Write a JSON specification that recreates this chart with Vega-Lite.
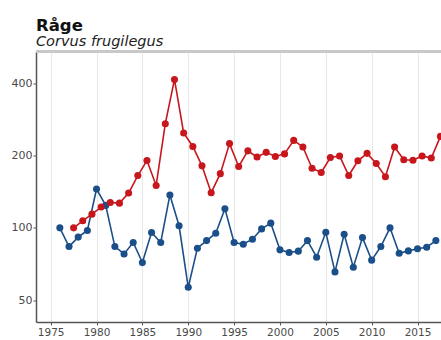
{
  "$schema": "https://vega.github.io/schema/vega-lite/v6.json",
  "width": 405,
  "height": 270.5,
  "autosize": {"type": "none"},
  "padding": {"left": 36, "top": 51.5, "right": 0, "bottom": 18},
  "background": "white",
  "config": {
    "font": "DejaVu Sans",
    "view": {"stroke": null},
    "axis": {
      "gridColor": "#e8e8e8",
      "gridWidth": 1,
      "domainColor": "#555555",
      "domainWidth": 1.5,
      "tickColor": "#555555",
      "tickSize": 3,
      "labelColor": "#4a4a4a",
      "labelFontSize": 10.5,
      "titleFontSize": 10
    }
  },
  "title": {
    "text": "Råge",
    "subtitle": "Corvus frugilegus",
    "anchor": "start",
    "frame": "group",
    "font": "DejaVu Sans",
    "fontSize": 16.5,
    "fontWeight": "bold",
    "color": "#111111",
    "subtitleFont": "DejaVu Sans",
    "subtitleFontStyle": "italic",
    "subtitleFontSize": 14.5,
    "subtitleColor": "#222222",
    "subtitlePadding": 1,
    "offset": 2
  },
  "data": {
    "values": [
      {"aar": 1976, "antal": 100, "serie": "A"},
      {"aar": 1977, "antal": 83.6, "serie": "A"},
      {"aar": 1978, "antal": 91.5, "serie": "A"},
      {"aar": 1979, "antal": 97.5, "serie": "A"},
      {"aar": 1980, "antal": 145, "serie": "A"},
      {"aar": 1981, "antal": 124, "serie": "A"},
      {"aar": 1982, "antal": 83.6, "serie": "A"},
      {"aar": 1983, "antal": 77.9, "serie": "A"},
      {"aar": 1984, "antal": 86.9, "serie": "A"},
      {"aar": 1985, "antal": 71.7, "serie": "A"},
      {"aar": 1986, "antal": 95.6, "serie": "A"},
      {"aar": 1987, "antal": 86.9, "serie": "A"},
      {"aar": 1988, "antal": 137, "serie": "A"},
      {"aar": 1989, "antal": 102, "serie": "A"},
      {"aar": 1990, "antal": 56.6, "serie": "A"},
      {"aar": 1991, "antal": 82.3, "serie": "A"},
      {"aar": 1992, "antal": 88.5, "serie": "A"},
      {"aar": 1993, "antal": 95, "serie": "A"},
      {"aar": 1994, "antal": 120, "serie": "A"},
      {"aar": 1995, "antal": 86.9, "serie": "A"},
      {"aar": 1996, "antal": 85.5, "serie": "A"},
      {"aar": 1997, "antal": 89.7, "serie": "A"},
      {"aar": 1998, "antal": 99, "serie": "A"},
      {"aar": 1999, "antal": 104.6, "serie": "A"},
      {"aar": 2000, "antal": 81, "serie": "A"},
      {"aar": 2001, "antal": 79, "serie": "A"},
      {"aar": 2002, "antal": 80, "serie": "A"},
      {"aar": 2003, "antal": 88.5, "serie": "A"},
      {"aar": 2004, "antal": 75.5, "serie": "A"},
      {"aar": 2005, "antal": 95.9, "serie": "A"},
      {"aar": 2006, "antal": 65.6, "serie": "A"},
      {"aar": 2007, "antal": 94.1, "serie": "A"},
      {"aar": 2008, "antal": 68.6, "serie": "A"},
      {"aar": 2009, "antal": 91.1, "serie": "A"},
      {"aar": 2010, "antal": 73.4, "serie": "A"},
      {"aar": 2011, "antal": 83.6, "serie": "A"},
      {"aar": 2012, "antal": 100, "serie": "A"},
      {"aar": 2013, "antal": 78.4, "serie": "A"},
      {"aar": 2014, "antal": 80.2, "serie": "A"},
      {"aar": 2015, "antal": 81.8, "serie": "A"},
      {"aar": 2016, "antal": 83.1, "serie": "A"},
      {"aar": 2017, "antal": 88.5, "serie": "A"},
      {"aar": 1977.5, "antal": 100, "serie": "B"},
      {"aar": 1978.5, "antal": 107, "serie": "B"},
      {"aar": 1979.5, "antal": 114, "serie": "B"},
      {"aar": 1980.5, "antal": 122, "serie": "B"},
      {"aar": 1981.5, "antal": 127.5, "serie": "B"},
      {"aar": 1982.5, "antal": 126.7, "serie": "B"},
      {"aar": 1983.5, "antal": 139.5, "serie": "B"},
      {"aar": 1984.5, "antal": 165, "serie": "B"},
      {"aar": 1985.5, "antal": 190.6, "serie": "B"},
      {"aar": 1986.5, "antal": 150, "serie": "B"},
      {"aar": 1987.5, "antal": 271, "serie": "B"},
      {"aar": 1988.5, "antal": 414, "serie": "B"},
      {"aar": 1989.5, "antal": 248, "serie": "B"},
      {"aar": 1990.5, "antal": 218, "serie": "B"},
      {"aar": 1991.5, "antal": 181, "serie": "B"},
      {"aar": 1992.5, "antal": 140, "serie": "B"},
      {"aar": 1993.5, "antal": 168, "serie": "B"},
      {"aar": 1994.5, "antal": 224, "serie": "B"},
      {"aar": 1995.5, "antal": 180, "serie": "B"},
      {"aar": 1996.5, "antal": 209, "serie": "B"},
      {"aar": 1997.5, "antal": 197, "serie": "B"},
      {"aar": 1998.5, "antal": 206, "serie": "B"},
      {"aar": 1999.5, "antal": 198, "serie": "B"},
      {"aar": 2000.5, "antal": 203, "serie": "B"},
      {"aar": 2001.5, "antal": 231, "serie": "B"},
      {"aar": 2002.5, "antal": 217, "serie": "B"},
      {"aar": 2003.5, "antal": 177, "serie": "B"},
      {"aar": 2004.5, "antal": 170, "serie": "B"},
      {"aar": 2005.5, "antal": 196, "serie": "B"},
      {"aar": 2006.5, "antal": 199, "serie": "B"},
      {"aar": 2007.5, "antal": 165, "serie": "B"},
      {"aar": 2008.5, "antal": 190, "serie": "B"},
      {"aar": 2009.5, "antal": 204, "serie": "B"},
      {"aar": 2010.5, "antal": 185, "serie": "B"},
      {"aar": 2011.5, "antal": 163, "serie": "B"},
      {"aar": 2012.5, "antal": 217, "serie": "B"},
      {"aar": 2013.5, "antal": 192, "serie": "B"},
      {"aar": 2014.5, "antal": 191, "serie": "B"},
      {"aar": 2015.5, "antal": 199, "serie": "B"},
      {"aar": 2016.5, "antal": 195, "serie": "B"},
      {"aar": 2017.5, "antal": 240, "serie": "B"}
    ]
  },
  "layer": [
    {
      "mark": {"type": "rule", "color": "#c8c8c8", "strokeWidth": 2},
      "encoding": {"y": {"datum": 541, "type": "quantitative", "scale": {"type": "log", "domain": [40.6, 541], "nice": false, "zero": false}}}
    },
    {
      "mark": {"type": "line", "strokeWidth": 1.6, "clip": true, "point": {"filled": true, "size": 50, "opacity": 1}},
      "encoding": {
        "x": {
          "field": "aar",
          "type": "quantitative",
          "scale": {"domain": [1973.4, 2017.56], "nice": false, "zero": false},
          "axis": {"values": [1975, 1980, 1985, 1990, 1995, 2000, 2005, 2010, 2015], "format": "d", "title": null, "labelPadding": 2}
        },
        "y": {
          "field": "antal",
          "type": "quantitative",
          "scale": {"type": "log", "domain": [40.6, 541], "nice": false, "zero": false},
          "axis": {"values": [50, 100, 200, 400], "format": "d", "title": null, "labelPadding": 1, "labelFontSize": 11}
        },
        "color": {
          "field": "serie",
          "type": "nominal",
          "scale": {"domain": ["A", "B"], "range": ["#1b4f8a", "#c8161d"]},
          "legend": null
        }
      }
    }
  ]
}
